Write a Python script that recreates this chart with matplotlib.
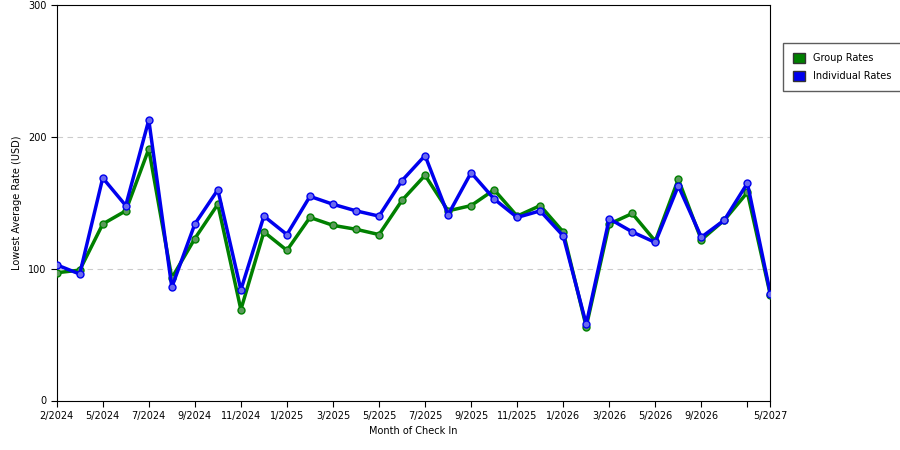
import matplotlib
matplotlib.use("Agg")
import matplotlib.pyplot as plt

tick_labels = {0: "2/2024", 2: "5/2024", 4: "7/2024", 6: "9/2024", 8: "11/2024",
               10: "1/2025", 12: "3/2025", 14: "5/2025", 16: "7/2025", 18: "9/2025",
               20: "11/2025", 22: "1/2026", 24: "3/2026", 26: "5/2026", 28: "9/2026",
               30: "", 31: "5/2027"}

group_rates = [97, 99, 134, 144, 191, 93, 123, 149, 69, 128, 114, 139, 133, 130, 126, 152,
               171, 144, 148, 160, 140, 148, 128, 56, 134, 142, 121, 168, 122, 137, 158, 80]
individual_rates = [103, 96, 169, 148, 213, 86, 134, 160, 84, 140, 126, 155, 149, 144, 140, 167,
                    186, 141, 173, 153, 139, 144, 125, 58, 138, 128, 120, 163, 124, 137, 165, 81]

x = list(range(len(group_rates)))

fig = plt.figure(figsize=(9, 4.5), dpi=100)
ax = fig.add_axes([0.063, 0.11, 0.793, 0.878])

ax.plot(x, group_rates, color="#008000", lw=2.5, marker="o", ms=5,
        mfc="#5a9a5a", mec="#008000", label="Group Rates", zorder=3)
ax.plot(x, individual_rates, color="#0000ee", lw=2.5, marker="o", ms=5,
        mfc="#6a6aee", mec="#0000ee", label="Individual Rates", zorder=4)

ax.set_xlim(0, len(x) - 1)
ax.set_ylim(0, 300)
ax.set_yticks([0, 100, 200, 300])
ax.set_xticks(list(tick_labels.keys()))
ax.set_xticklabels(list(tick_labels.values()))
ax.tick_params(labelsize=7, length=4)
ax.grid(axis="y", ls=(0, (5, 4)), color="#cccccc", lw=0.8)
ax.set_xlabel("Month of Check In", fontsize=7)
ax.set_ylabel("Lowest Average Rate (USD)", fontsize=7)

handles = [plt.Rectangle((0, 0), 1, 1, fc="#008000", ec="#333333"),
           plt.Rectangle((0, 0), 1, 1, fc="#0000ee", ec="#333333")]
fig.legend(handles, ["Group Rates", "Individual Rates"], loc="upper left",
           bbox_to_anchor=(0.865, 0.915), fontsize=7, fancybox=False,
           edgecolor="#333333", handlelength=1.2, handleheight=1.2, borderpad=1, labelspacing=0.8)

fig.savefig("out.png", dpi=100)
